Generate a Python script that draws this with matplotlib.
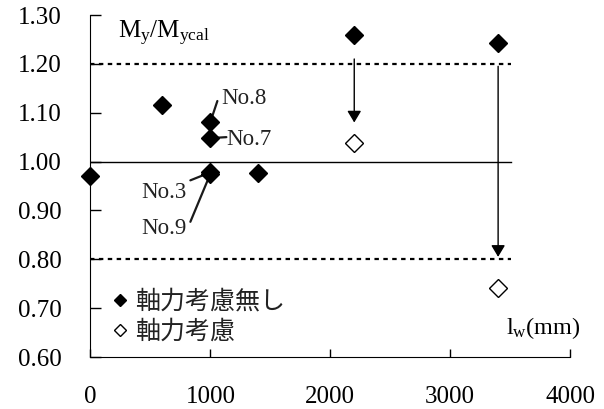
import matplotlib
matplotlib.use("Agg")
import matplotlib.pyplot as plt

plt.rcParams["font.family"] = ["Liberation Serif", "Noto Sans CJK JP"]
plt.rcParams["mathtext.fontset"] = "custom"
plt.rcParams["mathtext.rm"] = "Liberation Serif"
plt.rcParams["mathtext.it"] = "Liberation Serif:italic"

# wall length lw (mm) vs My/Mycal
lw_no_axial = [0, 600, 1000, 1000, 1000, 1000, 1400, 2200, 3400]
ratio_no_axial = [0.971, 1.115, 1.081, 1.048, 0.978, 0.975, 0.976, 1.260, 1.242]
lw_axial = [2200, 3400]
ratio_axial = [1.038, 0.742]

# specimen labels: (text, x, y, line end offset px, text offset px, ha)
spec_labels = [
    ("No.8", 1000, 1.081, (7, 21), (11, 24), "left"),
    ("No.7", 1000, 1.048, (16, 1), (16, -1), "left"),
    ("No.3", 1000, 0.978, (-20, -8), (-24, -20), "right"),
    ("No.9", 1000, 0.975, (-20, -48), (-24, -55), "right"),
]

# arrows from the uncorrected value down to the corrected one
arrow_x = [2200, 3400]
arrow_start = [1.210, 1.195]
arrow_end = [1.080, 0.805]

ref_levels = [1.20, 1.00, 0.80]
ref_styles = [(0, (2, 2)), "-", (0, (2, 2))]
ref_widths = [1.6, 1.0, 1.6]

x_ticks = [0, 1000, 2000, 3000, 4000]
y_ticks = [0.60, 0.70, 0.80, 0.90, 1.00, 1.10, 1.20, 1.30]

fig = plt.figure(figsize=(6.04, 4.09), dpi=100)
ax = fig.add_axes([0.1498, 0.1271, 0.7940, 0.8362])

for lev, ls, lwd in zip(ref_levels, ref_styles, ref_widths):
    ax.plot([0, 3510], [lev, lev], color="black", linestyle=ls, linewidth=lwd)

for x, y0, y1 in zip(arrow_x, arrow_start, arrow_end):
    ax.annotate("", xy=(x, y1), xytext=(x, y0),
                arrowprops=dict(arrowstyle="-|>,head_length=0.7,head_width=0.42",
                                color="black", linewidth=1.0,
                                shrinkA=0, shrinkB=0))

for text, x, y, l_off, t_off, ha in spec_labels:
    ax.annotate("", xy=(x, y), xytext=l_off, textcoords="offset pixels",
                arrowprops=dict(arrowstyle="-", color="#1a1a1a", linewidth=1.6,
                                shrinkA=0, shrinkB=0))
    ax.annotate(text, xy=(x, y), xytext=t_off, textcoords="offset pixels",
                ha=ha, va="center", fontsize=16.5, color="#222222")

ax.plot(lw_no_axial, ratio_no_axial, linestyle="none", marker="D",
        markersize=9, color="black", clip_on=False, zorder=5,
        label="軸力考慮無し")
ax.plot(lw_axial, ratio_axial, linestyle="none", marker="D",
        markersize=9, markerfacecolor="white", markeredgecolor="black",
        markeredgewidth=1.0, clip_on=False, zorder=5, label="軸力考慮")

ax.set_xlim(0, 4000)
ax.set_ylim(0.60, 1.30)
ax.set_xticks(x_ticks)
ax.set_yticks(y_ticks)
ax.set_xticklabels([str(v) for v in x_ticks])
ax.set_yticklabels(["%.2f" % v for v in y_ticks])
ax.tick_params(axis="y", direction="in", length=8, width=1, pad=21, labelsize=18)
ax.tick_params(axis="x", direction="in", length=6, width=1, pad=21, labelsize=18)
ax.spines["top"].set_visible(False)
ax.spines["right"].set_visible(False)

ax.text(0.058, 0.99, r"M$_{\rm y}$/M$_{\rm ycal}$", transform=ax.transAxes,
        fontsize=18, ha="left", va="top")
ax.text(1.022, 0.048, r"l$_{\rm w}$(mm)", transform=ax.transAxes,
        fontsize=17.5, ha="right", va="bottom")

leg = ax.legend(loc="lower left", bbox_to_anchor=(0.005, -0.022), frameon=False,
                prop={"family": "Noto Sans CJK JP", "size": 18},
                handlelength=0.6, handletextpad=0.3, labelspacing=0.16,
                markerscale=0.7, borderaxespad=0.4)
for t in leg.get_texts():
    t.set_color("#222222")

fig.savefig("out.png", dpi=100, facecolor="white")
